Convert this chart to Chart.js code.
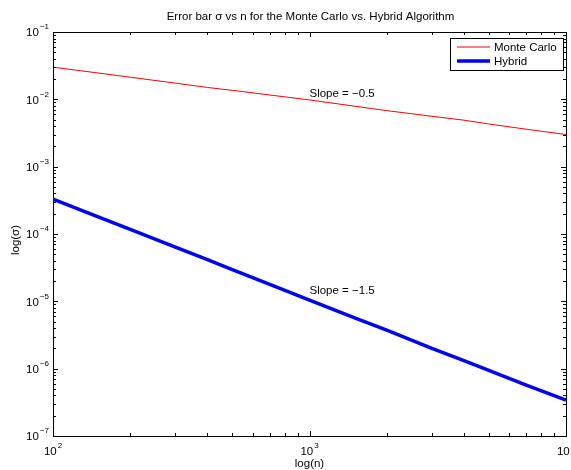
<!DOCTYPE html>
<html>
<head>
<meta charset="utf-8">
<script src="https://cdn.jsdelivr.net/npm/chart.js"></script>
<style>
    html, body { margin: 0; padding: 0; background: #fff; }
    canvas { display: block; }
</style>
</head>
<body>
<canvas id="errorChart" width="571" height="470"></canvas>
<script>
// Data
const sampleSizes = [100, 150, 200, 300, 400, 500, 700, 1000, 1500, 2000, 3000, 4000, 5000, 7000, 10000];
const monteCarloSigma = [0.0300, 0.0246, 0.0213, 0.0174, 0.0150, 0.0136, 0.0116, 0.0098, 0.0079, 0.0068, 0.0056, 0.0049, 0.0043, 0.0036, 0.0030];
const hybridSigma = [3.3e-4, 1.8e-4, 1.17e-4, 6.4e-5, 4.15e-5, 2.95e-5, 1.78e-5, 1.04e-5, 5.7e-6, 3.75e-6, 2.0e-6, 1.32e-6, 9.4e-7, 5.7e-7, 3.4e-7];
const seriesNames = ['Monte Carlo', 'Hybrid'];
const xTickExponents = [2, 3, 4];
const yTickExponents = [-1, -2, -3, -4, -5, -6, -7];
const slopeNotes = [
    { text: 'Slope = \u22120.5', n: 1000, sigma: 0.012 },
    { text: 'Slope = \u22121.5', n: 1000, sigma: 1.45e-5 }
];

const FONT = '"Liberation Sans", Arial, Helvetica, sans-serif';
const TEXT_SIZE = '11.5px ';

function toPoints(values) {
    return sampleSizes.map((n, i) => ({ x: n, y: values[i] }));
}

function expText(e) {
    return e < 0 ? '\u2212' + Math.abs(e) : String(e);
}

// draws "10^e" with a raised exponent
function drawPower(ctx, e, x, y, align) {
    ctx.font = TEXT_SIZE + FONT;
    const baseW = ctx.measureText('10').width;
    ctx.font = '8px ' + FONT;
    const expW = ctx.measureText(expText(e)).width;
    const total = baseW + expW + 1;
    const start = align === 'right' ? x - total : x - total / 2;
    ctx.textAlign = 'left';
    ctx.textBaseline = 'middle';
    ctx.font = TEXT_SIZE + FONT;
    ctx.fillText('10', start, y);
    ctx.font = '8px ' + FONT;
    ctx.fillText(expText(e), start + baseW + 1, y - 6);
}

const matlabAxes = {
    id: 'matlabAxes',
    afterDraw(chart) {
        const ctx = chart.ctx;
        const area = chart.chartArea;
        const xs = chart.scales.x;
        const ys = chart.scales.y;
        ctx.save();
        ctx.strokeStyle = '#000';
        ctx.fillStyle = '#000';
        ctx.lineWidth = 1;

        // box
        ctx.strokeRect(Math.round(area.left) + 0.5, Math.round(area.top) + 0.5,
            Math.round(area.right - area.left), Math.round(area.bottom - area.top));

        // ticks inside on all sides
        ctx.beginPath();
        for (let e = 2; e <= 4; e++) {
            for (let m = 1; m <= 9; m++) {
                if (e === 4 && m > 1) break;
                const px = Math.round(xs.getPixelForValue(m * Math.pow(10, e))) + 0.5;
                const len = m === 1 ? 5 : 3;
                ctx.moveTo(px, area.bottom); ctx.lineTo(px, area.bottom - len);
                ctx.moveTo(px, area.top); ctx.lineTo(px, area.top + len);
            }
        }
        for (let e = -7; e <= -1; e++) {
            for (let m = 1; m <= 9; m++) {
                if (e === -1 && m > 1) break;
                const py = Math.round(ys.getPixelForValue(m * Math.pow(10, e))) + 0.5;
                const len = m === 1 ? 5 : 3;
                ctx.moveTo(area.left, py); ctx.lineTo(area.left + len, py);
                ctx.moveTo(area.right, py); ctx.lineTo(area.right - len, py);
            }
        }
        ctx.stroke();

        // tick labels
        yTickExponents.forEach(e => {
            drawPower(ctx, e, area.left - 4, ys.getPixelForValue(Math.pow(10, e)) + 1, 'right');
        });
        xTickExponents.forEach(e => {
            drawPower(ctx, e, xs.getPixelForValue(Math.pow(10, e)), area.bottom + 16, 'center');
        });

        // title and axis titles
        const midX = (area.left + area.right) / 2;
        ctx.font = TEXT_SIZE + FONT;
        ctx.textAlign = 'center';
        ctx.textBaseline = 'middle';
        ctx.fillText('Error bar \u03c3 vs n for the Monte Carlo vs. Hybrid Algorithm', midX + 1, 17);
        ctx.fillText('log(n)', midX, 464);
        ctx.save();
        ctx.translate(16, (area.top + area.bottom) / 2 + 6);
        ctx.rotate(-Math.PI / 2);
        ctx.fillText('log(\u03c3)', 0, 0);
        ctx.restore();

        // slope notes
        ctx.textAlign = 'left';
        slopeNotes.forEach(note => {
            ctx.fillText(note.text, xs.getPixelForValue(note.n), ys.getPixelForValue(note.sigma));
        });

        // legend box
        const lx = 450, ly = 38, lw = 113, lh = 32;
        ctx.fillStyle = '#fff';
        ctx.fillRect(lx, ly, lw, lh);
        ctx.strokeStyle = '#000';
        ctx.lineWidth = 1;
        ctx.strokeRect(lx + 0.5, ly + 0.5, lw, lh);
        chart.data.datasets.forEach((ds, i) => {
            const y = ly + 9 + i * 14;
            ctx.beginPath();
            ctx.strokeStyle = ds.borderColor;
            ctx.lineWidth = ds.borderWidth;
            ctx.moveTo(lx + 7, y);
            ctx.lineTo(lx + 40, y);
            ctx.stroke();
            ctx.fillStyle = '#000';
            ctx.font = TEXT_SIZE + FONT;
            ctx.textBaseline = 'middle';
            ctx.fillText(ds.label, lx + 44, y + 1);
        });
        ctx.restore();
    }
};

new Chart(document.getElementById('errorChart'), {
    type: 'line',
    data: {
        datasets: [
            {
                label: seriesNames[0],
                data: toPoints(monteCarloSigma),
                borderColor: '#ff0000',
                borderWidth: 1,
                pointRadius: 0,
                tension: 0
            },
            {
                label: seriesNames[1],
                data: toPoints(hybridSigma),
                borderColor: '#0000ff',
                borderWidth: 3.5,
                pointRadius: 0,
                tension: 0
            }
        ]
    },
    options: {
        responsive: false,
        animation: false,
        layout: { padding: { left: 53, right: 5, top: 32, bottom: 34 } },
        scales: {
            x: { type: 'logarithmic', min: 100, max: 10000, display: false },
            y: { type: 'logarithmic', min: 1e-7, max: 1e-1, display: false }
        },
        plugins: {
            legend: { display: false },
            title: { display: false },
            tooltip: { enabled: false }
        }
    },
    plugins: [matlabAxes]
});
</script>
</body>
</html>
